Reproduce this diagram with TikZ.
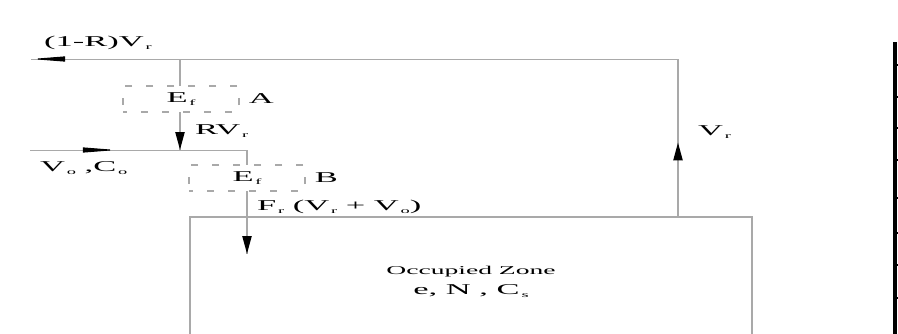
\documentclass[tikz,border=0pt]{standalone}
\usepackage{fontspec}
\setmainfont{Liberation Serif}
\newfontfamily\widefont[FakeStretch=2.3]{Liberation Serif}
\usetikzlibrary{arrows.meta,positioning,decorations.markings}
\definecolor{pipe}{HTML}{A9A9A9}
\newcommand{\sub}[1]{\hspace{0.12em}\raisebox{-0.45ex}{\fontsize{8}{9}\selectfont #1}}

\begin{document}
\begin{tikzpicture}[x=1pt, y=-1pt, node distance=9pt,
    every node/.style={font=\widefont\fontsize{15}{17}\selectfont, inner sep=0pt},
    duct/.style={draw=pipe, line width=2.2pt},
    lead/.style={draw=pipe, line width=1pt},
    filt/.style={draw=pipe, line width=1.2pt, dash pattern=on 7pt off 14pt, dash phase=3pt, fill=white, minimum width=116pt, minimum height=26pt},
    vtip/.style={postaction={decorate}, decoration={markings, mark=at position #1 with {\arrow[black]{Triangle[length=18pt,width=9pt]}}}},
    htip/.style={postaction={decorate}, decoration={markings, mark=at position #1 with {\arrow[black]{Triangle[length=34pt,width=5pt]}}}}]
    \useasboundingbox (0,0) rectangle (898,333);
    % room
    \node[draw=pipe, line width=1.4pt, minimum width=562pt, minimum height=130pt, align=center] (zone) at (471,282)
      {{\fontsize{12}{14}\selectfont Occupied Zone}\\[3pt] e, N , C\sub{s}};
    % junctions
    \coordinate (top) at (678,59);
    \coordinate (split) at (180,59);
    \coordinate (exh) at (31,59);
    \coordinate (fresh) at (30,150);
    \coordinate (mix) at (180,150);
    \coordinate (bend) at (247,150);
    \coordinate (supply) at (247,254);
    % flows
    \draw[duct, vtip=0.47] (zone.north -| top) -- (top);
    \draw[lead, htip=1] (top) -- (exh);
    \draw[duct, vtip=1] (split) -- (mix);
    \draw[lead, htip=0.4] (fresh) -- (bend);
    \draw[duct, vtip=1] (bend) -- (supply);
    % filters
    \node[filt] (effa) at (181,99) {E\sub{f}};
    \node[filt] (effb) at (247,178) {E\sub{f}};
    \node[right=of effa] (lbla) {A};
    \node[right=of effb] (lblb) {B};
    % labels
    \node (lblexh) at (98,43) {(1-R)V\sub{r}};
    \node[anchor=west] (lblrv) at (195,131) {RV\sub{r}};
    \node[anchor=west] (lblfresh) at (40,168) {V\sub{o} ,C\sub{o}};
    \node[anchor=west] (lblsup) at (257,207) {F\sub{r} (V\sub{r} + V\sub{o})};
    \node[anchor=west] (lblvr) at (698,132) {V\sub{r}};
    % edge of the next panel
    \draw[line width=4pt] (895,42) -- (895,335);
    \foreach \y in {65,97,128,160,198,233,265,298}
      \draw[line width=1.5pt] (895,\y) -- (898,\y);
\end{tikzpicture}
\end{document}
